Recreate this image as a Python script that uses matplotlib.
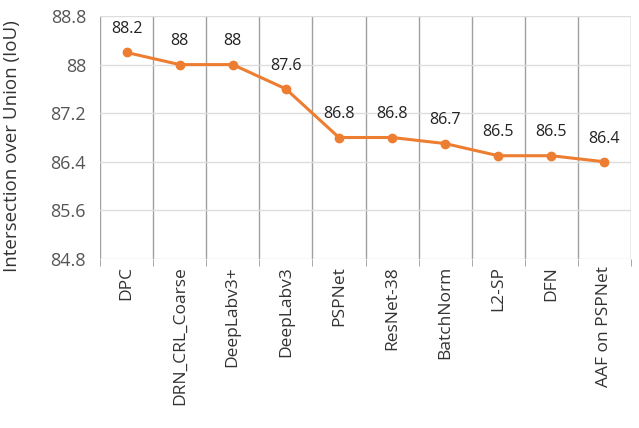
import matplotlib
matplotlib.use("Agg")
import matplotlib.pyplot as plt
import numpy as np

categories = ["DPC", "DRN_CRL_Coarse", "DeepLabv3+", "DeepLabv3", "PSPNet",
              "ResNet-38", "BatchNorm", "L2-SP", "DFN", "AAF on PSPNet"]
values = [88.2, 88.0, 88.0, 87.6, 86.8, 86.8, 86.7, 86.5, 86.5, 86.4]
value_labels = ["88.2", "88", "88", "87.6", "86.8", "86.8", "86.7", "86.5", "86.5", "86.4"]
yticks = [84.8, 85.6, 86.4, 87.2, 88.0, 88.8]
ytick_labels = ["84.8", "85.6", "86.4", "87.2", "88", "88.8"]

plt.rcParams['font.family'] = ['Open Sans', 'DejaVu Sans']

fig = plt.figure(figsize=(6.39, 4.28), dpi=100)
ax = fig.add_axes([100/639, 1 - 259/428, (631-100)/639, (259-16)/428])

x = np.arange(len(categories))
color = "#ED7D31"
ax.plot(x, values, color=color, lw=2.2, marker="o", ms=6, zorder=3)
for xi, v, lab in zip(x, values, value_labels):
    ax.annotate(lab, (xi, v), xytext=(0, 11), textcoords="offset points",
                ha="center", va="bottom", fontsize=11.5, color="#222222")

ax.set_xlim(-0.5, len(categories) - 0.5)
ax.set_ylim(84.8, 88.8)
ax.set_yticks(yticks)
ax.set_yticklabels(ytick_labels, fontsize=13, color="#555555")
ax.set_xticks(x)
ax.set_xticklabels(categories, rotation=90, fontsize=12.5, color="#333333")
ax.tick_params(axis="x", length=0, pad=5)
ax.tick_params(axis="y", length=0, pad=10)

ax.set_xticks(np.arange(-0.5, len(categories)), minor=True)
ax.tick_params(axis="x", which="minor", length=5, color="#999999")
ax.grid(True, which="minor", axis="x", color="#a0a0a0", lw=1.0)
ax.grid(True, which="major", axis="y", color="#dddddd", lw=1.0)
ax.set_axisbelow(True)
for s in ax.spines.values():
    s.set_visible(False)

ax.set_ylabel("Intersection over Union (IoU)", fontsize=13.5, color="#333333")
ax.yaxis.set_label_coords(-0.149, 0.465)

fig.savefig("out.png", dpi=100)
